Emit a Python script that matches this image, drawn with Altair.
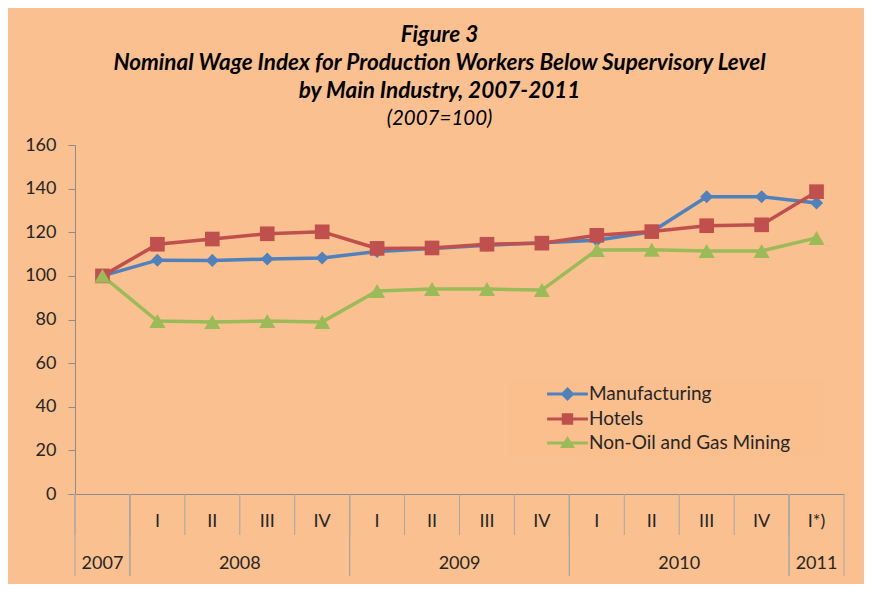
import altair as alt
import pandas as pd

# ---- data ----
years = ["2007", "2008", "2008", "2008", "2008", "2009", "2009", "2009", "2009",
         "2010", "2010", "2010", "2010", "2011"]
quarters = ["", "I", "II", "III", "IV", "I", "II", "III", "IV",
            "I", "II", "III", "IV", "I*)"]
series_names = ["Manufacturing", "Hotels", "Non-Oil and Gas Mining"]
manufacturing = [100, 107.2, 107.1, 107.7, 108.2, 111.2, 112.5, 114.0, 115.2,
                 116.3, 120.2, 136.3, 136.3, 133.4]
hotels = [100, 114.5, 116.9, 119.3, 120.2, 112.6, 112.8, 114.5, 115.0,
          118.6, 120.3, 123.0, 123.4, 138.6]
mining = [100, 79.3, 78.9, 79.3, 78.9, 93.1, 94.0, 94.0, 93.5,
          111.9, 112.0, 111.4, 111.4, 117.4]
series_values = [manufacturing, hotels, mining]

colors = ["#4F81BD", "#C0504D", "#9BBB59"]
shapes = ["diamond", "square", "triangle-up"]
sizes = [170, 260, 300]
legend_paths = [
    "M-3.4,0L3.4,0M-0.8,0L0,-0.8L0.8,0L0,0.8Z",
    "M-3.4,0L3.4,0M-0.7,-0.7L0.7,-0.7L0.7,0.7L-0.7,0.7Z",
    "M-3.4,0L3.4,0M-0.8,0.6L0,-0.7L0.8,0.6Z",
]

rows = []
for name, vals in zip(series_names, series_values):
    for i, v in enumerate(vals):
        rows.append({"series": name, "idx": i, "xc": i + 0.5,
                     "year": years[i], "quarter": quarters[i], "value": v})
df = pd.DataFrame(rows)
cats = pd.DataFrame({"idx": range(len(years)), "year": years, "quarter": quarters})
cats["xc"] = cats["idx"] + 0.5
legend_df = pd.DataFrame({"lseries": series_names})

W, H = 769, 349
BG = "#FBC08F"
BOX = "#FBBF8E"
PLOT_BG = "#E5E0EC"
AXIS_GRAY = "#8C8C8C"
TEXT = "#262626"
FONT = "Lato"

xscale = alt.Scale(domain=[0, len(years)], nice=False, zero=False)
yscale = alt.Scale(domain=[0, 160], nice=False)

base = alt.Chart(df)

# legend background box, drawn as a wide rule in screen space
legend_box = alt.Chart(cats).transform_filter("datum.idx == 0").mark_rule(
    color=BOX, strokeWidth=76, strokeCap="butt"
).encode(
    x=alt.value(435), x2=alt.value(749), y=alt.value(273)
)

lines = base.mark_line(strokeWidth=3.5).encode(
    x=alt.X("xc:Q", scale=xscale,
            axis=alt.Axis(labels=False, ticks=False, grid=False, title=None,
                          domainColor=AXIS_GRAY, domainWidth=1)),
    y=alt.Y("value:Q", scale=yscale,
            axis=alt.Axis(values=list(range(0, 161, 20)), grid=False, title=None,
                          domainColor=AXIS_GRAY, tickColor=AXIS_GRAY, tickSize=7,
                          labelFontSize=18, labelColor=TEXT, labelFont=FONT,
                          labelPadding=12)),
    color=alt.Color("series:N", scale=alt.Scale(domain=series_names, range=colors),
                    legend=None),
    detail="series:N",
    order="idx:Q",
)

points = base.mark_point(filled=True, opacity=1).encode(
    x=alt.X("xc:Q", scale=xscale),
    y=alt.Y("value:Q", scale=yscale),
    color=alt.Color("series:N", scale=alt.Scale(domain=series_names, range=colors),
                    legend=None),
    shape=alt.Shape("series:N", scale=alt.Scale(domain=series_names, range=shapes),
                    legend=None),
    size=alt.Size("series:N", scale=alt.Scale(domain=series_names, range=sizes),
                  legend=None),
)

leg = alt.Legend(
    title=None, orient="none", legendX=483, legendY=239.5,
    labelFontSize=19, labelColor=TEXT, labelFont=FONT, labelOffset=12, labelLimit=400,
    symbolSize=144, symbolStrokeWidth=3, symbolOpacity=1, rowPadding=3,
)
legend_layer = alt.Chart(legend_df).mark_point(filled=False, opacity=0.001).encode(
    fill=alt.Fill("lseries:N", scale=alt.Scale(domain=series_names, range=colors),
                  legend=leg),
    stroke=alt.Stroke("lseries:N", scale=alt.Scale(domain=series_names, range=colors),
                      legend=leg),
    shape=alt.Shape("lseries:N", scale=alt.Scale(domain=series_names, range=legend_paths),
                    legend=leg),
)

cat_base = alt.Chart(cats)
short_rules = cat_base.mark_rule(color="#A6A6A6", strokeWidth=1).encode(
    x=alt.X("idx:Q", scale=xscale), y=alt.value(H), y2=alt.value(H + 41)
)
q_labels = cat_base.mark_text(fontSize=18, font=FONT, color=TEXT, baseline="middle").encode(
    x=alt.X("xc:Q", scale=xscale), y=alt.value(H + 28), text="quarter:N"
)
year_agg = cat_base.transform_aggregate(
    lo="min(idx)", hi="max(idx)", groupby=["year"]
).transform_calculate(
    center="(datum.lo + datum.hi + 1) / 2", right="datum.hi + 1"
)
year_rules_l = year_agg.mark_rule(color="#A6A6A6", strokeWidth=1).encode(
    x=alt.X("lo:Q", scale=xscale), y=alt.value(H), y2=alt.value(H + 82)
)
year_rules_r = year_agg.mark_rule(color="#A6A6A6", strokeWidth=1).encode(
    x=alt.X("right:Q", scale=xscale), y=alt.value(H), y2=alt.value(H + 82)
)
year_labels = year_agg.mark_text(fontSize=18, font=FONT, color=TEXT, baseline="middle").encode(
    x=alt.X("center:Q", scale=xscale), y=alt.value(H + 70), text="year:N"
)

chart = alt.layer(
    legend_box, lines, points, legend_layer,
    short_rules, year_rules_l, year_rules_r, q_labels, year_labels,
).resolve_scale(
    shape="independent", fill="independent", stroke="independent"
).resolve_legend(
    shape="independent", fill="independent", stroke="independent"
).properties(
    width=W, height=H,
    background=BG,
    padding={"left": 67, "top": 137, "right": 20, "bottom": 90},
    autosize=alt.AutoSizeParams(type="none"),
    title=alt.TitleParams(
        text=["Figure 3",
              "Nominal Wage Index for Production Workers Below Supervisory Level",
              "by Main Industry, 2007-2011"],
        subtitle="(2007=100)",
        font=FONT, fontSize=22.5, fontWeight="bold", fontStyle="italic", color="#000000",
        lineHeight=28,
        subtitleFont=FONT, subtitleFontSize=20.5, subtitleFontStyle="italic",
        subtitleFontWeight="normal", subtitleColor="#000000", subtitlePadding=6,
        anchor="middle", offset=7, dx=-20,
    ),
).configure_view(fill=PLOT_BG, stroke=None)

chart.save("out.html", embed_options={"renderer": "svg", "actions": False})
